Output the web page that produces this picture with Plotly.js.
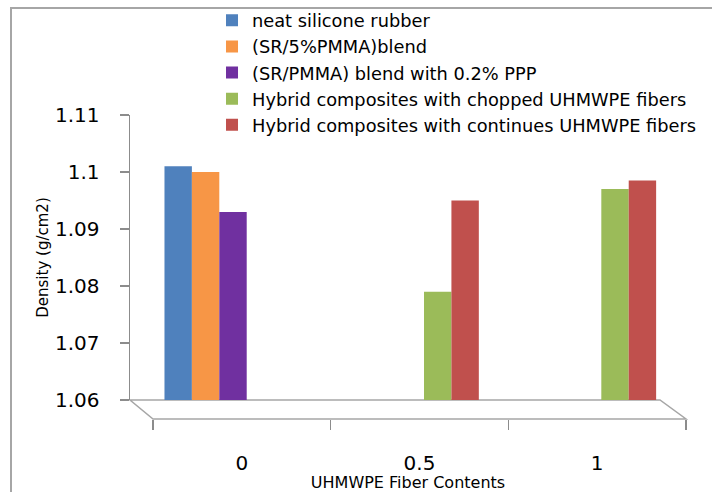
<!DOCTYPE html>
<html>
<head>
<meta charset="utf-8">
<script src="https://cdn.plot.ly/plotly-3.0.1.min.js"></script>
<style>
  html, body { margin: 0; padding: 0; background: #fff; }
  #wrap { position: relative; width: 712px; height: 492px; overflow: hidden; }
  #chart { position: absolute; left: 0; top: 0; width: 712px; height: 492px; }
  #frame { position: absolute; left: 10px; top: 7px; width: 800px; height: 600px;
           border-top: 2px solid #a6a6a6; border-left: 2px solid #a6a6a6; pointer-events: none; }
</style>
</head>
<body>
<div id="wrap">
  <div id="chart"></div>
  <div id="frame"></div>
</div>
<script>
// ---- data ----
const categories = ['0', '0.5', '1'];
const seriesNames = [
  'neat silicone rubber',
  '(SR/5%PMMA)blend',
  '(SR/PMMA) blend with 0.2% PPP',
  'Hybrid composites with chopped UHMWPE fibers',
  'Hybrid composites with continues UHMWPE fibers'
];
const neatSR            = [1.101, null, null];
const srPmmaBlend       = [1.100, null, null];
const srPmmaPPP         = [1.093, null, null];
const hybridChopped     = [null, 1.079, 1.097];
const hybridContinuous  = [null, 1.095, 1.0985];
const yTickVals = [1.06, 1.07, 1.08, 1.09, 1.1, 1.11];
const yTickText = ['1.06', '1.07', '1.08', '1.09', '1.1', '1.11'];
const catPositions = [0, 1, 2];
const boundaryPositions = [-0.5, 0.5, 1.5, 2.5];

const colors = ['#4F81BD', '#F79646', '#7030A0', '#9BBB59', '#C0504D'];
const seriesValues = [neatSR, srPmmaBlend, srPmmaPPP, hybridChopped, hybridContinuous];

const traces = seriesValues.map((vals, i) => ({
  type: 'bar',
  name: seriesNames[i],
  x: categories,
  y: vals,
  xaxis: 'x',
  yaxis: 'y',
  marker: { color: colors[i] },
  hoverinfo: 'none'
}));

// carrier trace for the category label axis (no visible marks)
traces.push({
  type: 'scatter',
  mode: 'markers',
  x: catPositions,
  y: categories.map(() => null),
  xaxis: 'x2',
  yaxis: 'y',
  marker: { opacity: 0 },
  showlegend: false,
  hoverinfo: 'none'
});

const FONT = 'DejaVu Sans, sans-serif';

const layout = {
  width: 712,
  height: 492,
  margin: { l: 130, r: 26, t: 115, b: 73, autoexpand: false },
  paper_bgcolor: 'rgba(0,0,0,0)',
  plot_bgcolor: 'rgba(0,0,0,0)',
  barmode: 'group',
  bargap: 0.227,
  bargroupgap: 0,
  showlegend: true,
  legend: {
    x: 0.1475, xanchor: 'left',
    y: 1.371, yanchor: 'top',
    font: { family: FONT, size: 17.8, color: '#000' },
    bgcolor: 'rgba(0,0,0,0)',
    traceorder: 'normal',
    itemclick: false
  },
  xaxis: {
    type: 'category',
    range: [-0.581, 2.555],
    visible: false,
    fixedrange: true
  },
  xaxis2: {
    type: 'linear',
    overlaying: 'x',
    anchor: 'free',
    position: 0,
    side: 'bottom',
    range: [-0.629, 2.5],
    tickvals: catPositions,
    ticktext: categories,
    ticks: '',
    ticklabelstandoff: 30,
    tickfont: { family: FONT, size: 20, color: '#000' },
    minor: { tickvals: boundaryPositions, ticks: 'outside', ticklen: 10, tickcolor: '#8c8c8c', tickwidth: 1.5 },
    showline: false,
    showgrid: false,
    zeroline: false,
    title: { text: 'UHMWPE Fiber Contents', font: { family: FONT, size: 16, color: '#000' }, standoff: 0 },
    automargin: false,
    fixedrange: true
  },
  yaxis: {
    domain: [0.0625, 1],
    range: [1.06, 1.11],
    tickvals: yTickVals,
    ticktext: yTickText,
    ticks: 'outside',
    ticklen: 9,
    tickwidth: 1.5,
    tickcolor: '#8c8c8c',
    ticklabelstandoff: 16,
    showline: true,
    linecolor: '#8c8c8c',
    linewidth: 1.5,
    showgrid: false,
    zeroline: false,
    tickfont: { family: FONT, size: 20, color: '#000' },
    title: { text: 'Density (g/cm2)', font: { family: FONT, size: 15, color: '#000' }, standoff: 2 },
    automargin: false,
    fixedrange: true
  },
  shapes: [{
    type: 'path',
    xref: 'paper', yref: 'paper',
    path: 'M0,0.0625 L0.9532,0.0625 L1,0 L0.0414,0 Z',
    line: { color: '#a6a6a6', width: 1.5 },
    layer: 'below'
  }]
};

Plotly.newPlot('chart', traces, layout, { staticPlot: true, displayModeBar: false });
</script>
</body>
</html>
